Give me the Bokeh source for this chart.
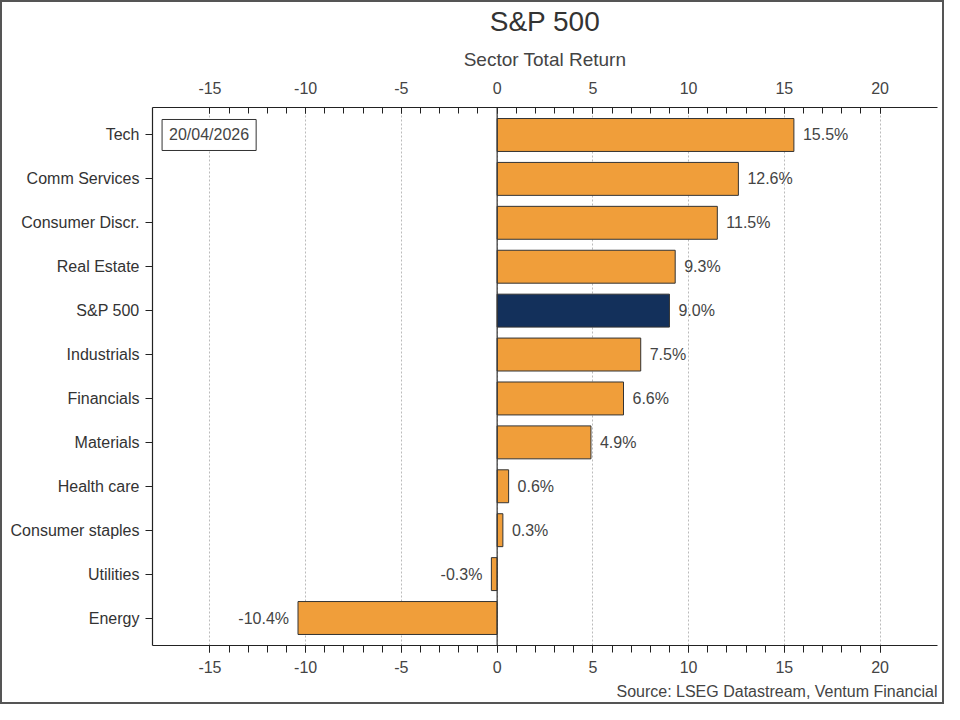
from bokeh.plotting import figure
from bokeh.models import (ColumnDataSource, FactorRange, Range1d, LinearAxis, FixedTicker,
                          Span, Label, Title, LabelSet, Grid, CustomJSTickFormatter)
from bokeh.core.properties import value
from bokeh.embed import file_html
from bokeh.resources import INLINE

sectors = ["Tech", "Comm Services", "Consumer Discr.", "Real Estate", "S&P 500",
           "Industrials", "Financials", "Materials", "Health care",
           "Consumer staples", "Utilities", "Energy"]
returns = [15.5, 12.6, 11.5, 9.3, 9.0, 7.5, 6.6, 4.9, 0.6, 0.3, -0.3, -10.4]
major_ticks = [-15, -10, -5, 0, 5, 10, 15, 20]
minor_ticks = list(range(-15, 21))
date_text = "20/04/2026"
source_text = "Source: LSEG Datastream, Ventum Financial"

ORANGE = "#F09E3A"
NAVY = "#13305B"
FONT = "Liberation Sans"

colors = [NAVY if s == "S&P 500" else ORANGE for s in sectors]
labels = ["%.1f%%" % v for v in returns]
src = ColumnDataSource(dict(sector=sectors, ret=returns, color=colors, label=labels))
pos = ColumnDataSource(dict(sector=[s for s, v in zip(sectors, returns) if v >= 0],
                            ret=[v for v in returns if v >= 0],
                            label=[l for l, v in zip(labels, returns) if v >= 0]))
neg = ColumnDataSource(dict(sector=[s for s, v in zip(sectors, returns) if v < 0],
                            ret=[v for v in returns if v < 0],
                            label=[l for l, v in zip(labels, returns) if v < 0]))

p = figure(width=944, height=704, output_backend="svg", toolbar_location=None,
           y_range=FactorRange(factors=list(reversed(sectors)), range_padding=0.021),
           x_range=Range1d(-18, 23), x_axis_location=None,
           min_border_left=150, min_border_right=9, min_border_top=104, min_border_bottom=61)
p.outline_line_color = None
p.background_fill_color = "white"
p.border_fill_color = "white"

p.hbar(y="sector", right="ret", left=0, height=0.75, fill_color="color",
       line_color="#333333", line_width=1, source=src)

p.add_layout(Span(location=0, dimension="height", line_color="#333333", line_width=1.2))

lbl_kw = dict(text_font=value(FONT), text_font_size="16px", text_color="#444444",
              text_baseline="middle")
p.add_layout(LabelSet(x="ret", y="sector", text="label", source=pos, x_offset=9,
                      text_align="left", **lbl_kw))
p.add_layout(LabelSet(x="ret", y="sector", text="label", source=neg, x_offset=-9,
                      text_align="right", **lbl_kw))

ticker = FixedTicker(ticks=major_ticks, minor_ticks=minor_ticks)
fmt = CustomJSTickFormatter(code="return tick.toFixed(0);")

def style_axis(ax, inward):
    ax.ticker = ticker
    ax.formatter = fmt
    ax.axis_line_color = "#222222"
    ax.axis_line_width = 1.2
    ax.major_tick_line_color = "#222222"
    ax.minor_tick_line_color = "#222222"
    ax.major_label_text_font = FONT
    ax.major_label_text_font_size = "16px"
    ax.major_label_text_color = "#444444"
    if inward:
        ax.major_tick_in = 6
        ax.major_tick_out = 0
        ax.minor_tick_in = 6
        ax.minor_tick_out = 0
    else:
        ax.major_tick_in = 0
        ax.major_tick_out = 7
        ax.minor_tick_in = 0
        ax.minor_tick_out = 7
    ax.major_label_standoff = 8

top_ax = LinearAxis()
style_axis(top_ax, True)
top_ax.major_label_standoff = 14
p.add_layout(top_ax, "above")
bot_ax = LinearAxis()
style_axis(bot_ax, False)
p.add_layout(bot_ax, "below")

yax = p.yaxis[0]
yax.axis_line_color = "#222222"
yax.axis_line_width = 1.2
yax.major_tick_in = 0
yax.major_tick_out = 7
yax.major_tick_line_color = "#222222"
yax.major_label_text_font = FONT
yax.major_label_text_font_size = "16px"
yax.major_label_text_color = "#333333"
yax.major_label_standoff = 6

p.xgrid.grid_line_color = None
p.ygrid.grid_line_color = None
p.add_layout(Grid(dimension=0, ticker=FixedTicker(ticks=major_ticks), grid_line_color="#bbbbbb",
                  grid_line_dash="2 2", grid_line_width=1))

p.add_layout(Label(x=-17.5, y=11.5, text=date_text, text_font=FONT, text_font_size="16px",
                   text_color="#444444", text_baseline="middle", text_align="left",
                   border_line_color="#333333", border_line_width=1,
                   background_fill_color="white", padding=7))

p.add_layout(Title(text="Sector Total Return", align="center", text_font=FONT,
                   text_font_size="19px", text_font_style="normal", text_color="#444444",
                   standoff=17),
             "above")
p.add_layout(Title(text="S&P 500", align="center", text_font=FONT,
                   text_font_size="28px", text_font_style="normal", text_color="#333333",
                   standoff=3),
             "above")
p.add_layout(Title(text=source_text, align="right", text_font=FONT, text_font_size="16px",
                   text_font_style="normal", text_color="#444444", offset=0),
             "below")

p.styles = {"border": "2px solid #555555", "box-sizing": "border-box"}

open("out.html", "w").write(file_html(p, INLINE))
